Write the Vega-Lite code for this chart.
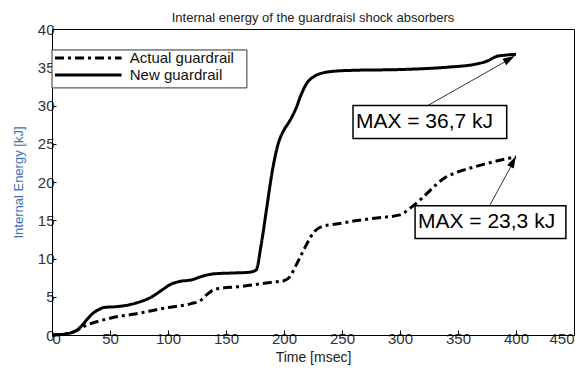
{
  "$schema": "https://vega.github.io/schema/vega-lite/v6.json",
  "autosize": {"type": "none"},
  "width": 522,
  "height": 306,
  "padding": {"left": 52, "top": 29, "right": 14, "bottom": 38},
  "background": "white",
  "title": {"text": "Internal energy of the guardraisl shock absorbers", "font": "Liberation Sans", "fontSize": 13, "fontWeight": "normal", "color": "#222", "offset": -3},
  "config": {
    "view": {"stroke": "black", "strokeWidth": 1},
    "font": "Liberation Sans",
    "axis": {
      "labelOverlap": false, "labelFont": "Liberation Sans", "labelFontSize": 15, "labelColor": "#333",
      "titleFont": "Liberation Sans", "titleFontWeight": "normal",
      "domainColor": "black", "tickColor": "black",
      "grid": true, "gridDash": [1, 4], "gridColor": "#222"
    },
    "axisX": {
      "values": [0, 25, 50, 75, 100, 125, 150, 175, 200, 225, 250, 275, 300, 325, 350, 375, 400, 425, 450],
      "labelExpr": "datum.value % 50 === 0 ? datum.label : ''",
      "gridOpacity": {"condition": {"test": "datum.value % 50 === 0", "value": 1}, "value": 0},
      "tickSize": -5, "labelPadding": 1, "titleFontSize": 14, "titleColor": "#222", "titlePadding": 4
    },
    "axisY": {
      "values": [0, 2.5, 5, 7.5, 10, 12.5, 15, 17.5, 20, 22.5, 25, 27.5, 30, 32.5, 35, 37.5, 40],
      "labelExpr": "datum.value % 5 === 0 ? datum.label : ''",
      "gridOpacity": {"condition": {"test": "datum.value % 5 === 0", "value": 1}, "value": 0},
      "tickSize": -4, "labelPadding": 2, "titleFontSize": 13, "titleColor": "#3c6eb4", "titlePadding": 12
    }
  },
  "datasets": {
    "curves": [
      {"t": 0, "v": 0, "series": "New guardrail"},
      {"t": 10, "v": 0.1, "series": "New guardrail"},
      {"t": 20, "v": 0.5, "series": "New guardrail"},
      {"t": 25, "v": 1.1, "series": "New guardrail"},
      {"t": 30, "v": 2.0, "series": "New guardrail"},
      {"t": 35, "v": 2.8, "series": "New guardrail"},
      {"t": 40, "v": 3.3, "series": "New guardrail"},
      {"t": 45, "v": 3.6, "series": "New guardrail"},
      {"t": 55, "v": 3.7, "series": "New guardrail"},
      {"t": 65, "v": 3.9, "series": "New guardrail"},
      {"t": 75, "v": 4.3, "series": "New guardrail"},
      {"t": 85, "v": 4.9, "series": "New guardrail"},
      {"t": 95, "v": 5.9, "series": "New guardrail"},
      {"t": 102, "v": 6.6, "series": "New guardrail"},
      {"t": 110, "v": 7.0, "series": "New guardrail"},
      {"t": 120, "v": 7.2, "series": "New guardrail"},
      {"t": 130, "v": 7.7, "series": "New guardrail"},
      {"t": 140, "v": 8.0, "series": "New guardrail"},
      {"t": 155, "v": 8.1, "series": "New guardrail"},
      {"t": 170, "v": 8.2, "series": "New guardrail"},
      {"t": 176, "v": 8.5, "series": "New guardrail"},
      {"t": 180, "v": 11.5, "series": "New guardrail"},
      {"t": 185, "v": 16.5, "series": "New guardrail"},
      {"t": 190, "v": 21.5, "series": "New guardrail"},
      {"t": 195, "v": 25.0, "series": "New guardrail"},
      {"t": 200, "v": 26.8, "series": "New guardrail"},
      {"t": 205, "v": 28.0, "series": "New guardrail"},
      {"t": 210, "v": 29.5, "series": "New guardrail"},
      {"t": 215, "v": 31.5, "series": "New guardrail"},
      {"t": 220, "v": 33.0, "series": "New guardrail"},
      {"t": 225, "v": 33.7, "series": "New guardrail"},
      {"t": 232, "v": 34.2, "series": "New guardrail"},
      {"t": 245, "v": 34.5, "series": "New guardrail"},
      {"t": 260, "v": 34.6, "series": "New guardrail"},
      {"t": 300, "v": 34.7, "series": "New guardrail"},
      {"t": 340, "v": 35.0, "series": "New guardrail"},
      {"t": 365, "v": 35.4, "series": "New guardrail"},
      {"t": 375, "v": 35.8, "series": "New guardrail"},
      {"t": 383, "v": 36.4, "series": "New guardrail"},
      {"t": 392, "v": 36.6, "series": "New guardrail"},
      {"t": 400, "v": 36.7, "series": "New guardrail"},
      {"t": 0, "v": 0, "series": "Actual guardrail"},
      {"t": 10, "v": 0.1, "series": "Actual guardrail"},
      {"t": 20, "v": 0.5, "series": "Actual guardrail"},
      {"t": 30, "v": 1.3, "series": "Actual guardrail"},
      {"t": 40, "v": 1.8, "series": "Actual guardrail"},
      {"t": 50, "v": 2.2, "series": "Actual guardrail"},
      {"t": 60, "v": 2.5, "series": "Actual guardrail"},
      {"t": 70, "v": 2.7, "series": "Actual guardrail"},
      {"t": 80, "v": 3.0, "series": "Actual guardrail"},
      {"t": 90, "v": 3.3, "series": "Actual guardrail"},
      {"t": 100, "v": 3.6, "series": "Actual guardrail"},
      {"t": 110, "v": 3.8, "series": "Actual guardrail"},
      {"t": 120, "v": 4.1, "series": "Actual guardrail"},
      {"t": 128, "v": 4.5, "series": "Actual guardrail"},
      {"t": 133, "v": 5.2, "series": "Actual guardrail"},
      {"t": 138, "v": 5.8, "series": "Actual guardrail"},
      {"t": 145, "v": 6.1, "series": "Actual guardrail"},
      {"t": 160, "v": 6.3, "series": "Actual guardrail"},
      {"t": 175, "v": 6.6, "series": "Actual guardrail"},
      {"t": 190, "v": 6.9, "series": "Actual guardrail"},
      {"t": 200, "v": 7.1, "series": "Actual guardrail"},
      {"t": 205, "v": 7.6, "series": "Actual guardrail"},
      {"t": 210, "v": 9.0, "series": "Actual guardrail"},
      {"t": 215, "v": 10.5, "series": "Actual guardrail"},
      {"t": 220, "v": 12.0, "series": "Actual guardrail"},
      {"t": 226, "v": 13.5, "series": "Actual guardrail"},
      {"t": 233, "v": 14.2, "series": "Actual guardrail"},
      {"t": 245, "v": 14.5, "series": "Actual guardrail"},
      {"t": 260, "v": 14.9, "series": "Actual guardrail"},
      {"t": 280, "v": 15.3, "series": "Actual guardrail"},
      {"t": 300, "v": 15.7, "series": "Actual guardrail"},
      {"t": 308, "v": 16.5, "series": "Actual guardrail"},
      {"t": 317, "v": 17.6, "series": "Actual guardrail"},
      {"t": 328, "v": 19.2, "series": "Actual guardrail"},
      {"t": 338, "v": 20.5, "series": "Actual guardrail"},
      {"t": 348, "v": 21.2, "series": "Actual guardrail"},
      {"t": 360, "v": 21.8, "series": "Actual guardrail"},
      {"t": 372, "v": 22.3, "series": "Actual guardrail"},
      {"t": 385, "v": 22.8, "series": "Actual guardrail"},
      {"t": 400, "v": 23.3, "series": "Actual guardrail"}
    ],
    "legendbox": [
      {"x1": 0, "x2": 168, "y1": 37.26, "y2": 32.3}
    ],
    "legend": [
      {"series": "Actual guardrail", "x1": 2.6, "x2": 60, "y": 36.2, "tx": 67},
      {"series": "New guardrail", "x1": 2.6, "x2": 60, "y": 34.0, "tx": 67}
    ],
    "boxes": [
      {"x1": 259.5, "x2": 392, "y1": 30.0, "y2": 25.7, "label": "MAX = 36,7 kJ", "tx": 262, "ty": 27.85},
      {"x1": 313, "x2": 443, "y1": 16.9, "y2": 12.6, "label": "MAX = 23,3 kJ", "tx": 315.5, "ty": 14.75}
    ],
    "arrows": [
      {"x1": 324, "y1": 30.0, "x2": 395, "y2": 36.1, "hx": 394.5, "hy": 36.1, "dir": 59},
      {"x1": 377.6, "y1": 17.0, "x2": 398, "y2": 22.7, "hx": 397.6, "hy": 22.7, "dir": 27}
    ]
  },
  "layer": [
    {
      "data": {"name": "curves"},
      "mark": {"type": "line", "color": "black", "strokeWidth": 3, "interpolate": "monotone"},
      "encoding": {
        "x": {
          "field": "t", "type": "quantitative",
          "scale": {"domain": [0, 450], "nice": false},
          "axis": {"title": "Time [msec]"}
        },
        "y": {
          "field": "v", "type": "quantitative",
          "scale": {"domain": [0, 40], "nice": false},
          "axis": {"title": "Internal Energy [kJ]"}
        },
        "strokeDash": {
          "field": "series", "type": "nominal",
          "scale": {"domain": ["Actual guardrail", "New guardrail"], "range": [[9, 4, 3, 4], [1, 0]]},
          "legend": null
        }
      }
    },
    {
      "data": {"name": "legendbox"},
      "mark": {"type": "rect", "fill": "white", "stroke": "#333", "strokeWidth": 1},
      "encoding": {
        "x": {"field": "x1", "type": "quantitative"},
        "x2": {"field": "x2"},
        "y": {"field": "y1", "type": "quantitative"},
        "y2": {"field": "y2"}
      }
    },
    {
      "data": {"name": "legend"},
      "mark": {"type": "rule", "color": "black", "strokeWidth": 3},
      "encoding": {
        "x": {"field": "x1", "type": "quantitative"},
        "x2": {"field": "x2"},
        "y": {"field": "y", "type": "quantitative"},
        "strokeDash": {"field": "series", "type": "nominal", "legend": null}
      }
    },
    {
      "data": {"name": "legend"},
      "mark": {"type": "text", "align": "left", "baseline": "middle", "font": "Liberation Sans", "fontSize": 15, "color": "#111"},
      "encoding": {
        "x": {"field": "tx", "type": "quantitative"},
        "y": {"field": "y", "type": "quantitative"},
        "text": {"field": "series"}
      }
    },
    {
      "data": {"name": "arrows"},
      "mark": {"type": "rule", "color": "#333", "strokeWidth": 1},
      "encoding": {
        "x": {"field": "x1", "type": "quantitative"},
        "y": {"field": "y1", "type": "quantitative"},
        "x2": {"field": "x2"},
        "y2": {"field": "y2"}
      }
    },
    {
      "data": {"name": "arrows"},
      "mark": {"type": "point", "shape": "M0,-1L0.6,1L-0.6,1Z", "filled": true, "color": "black", "opacity": 1, "size": 150},
      "encoding": {
        "x": {"field": "hx", "type": "quantitative"},
        "y": {"field": "hy", "type": "quantitative"},
        "angle": {"field": "dir", "type": "quantitative", "scale": null}
      }
    },
    {
      "data": {"name": "boxes"},
      "mark": {"type": "rect", "fill": "white", "stroke": "black", "strokeWidth": 1.5},
      "encoding": {
        "x": {"field": "x1", "type": "quantitative"},
        "x2": {"field": "x2"},
        "y": {"field": "y1", "type": "quantitative"},
        "y2": {"field": "y2"}
      }
    },
    {
      "data": {"name": "boxes"},
      "mark": {"type": "text", "align": "left", "baseline": "middle", "font": "Liberation Sans", "fontSize": 21, "color": "black"},
      "encoding": {
        "x": {"field": "tx", "type": "quantitative"},
        "y": {"field": "ty", "type": "quantitative"},
        "text": {"field": "label"}
      }
    }
  ]
}
